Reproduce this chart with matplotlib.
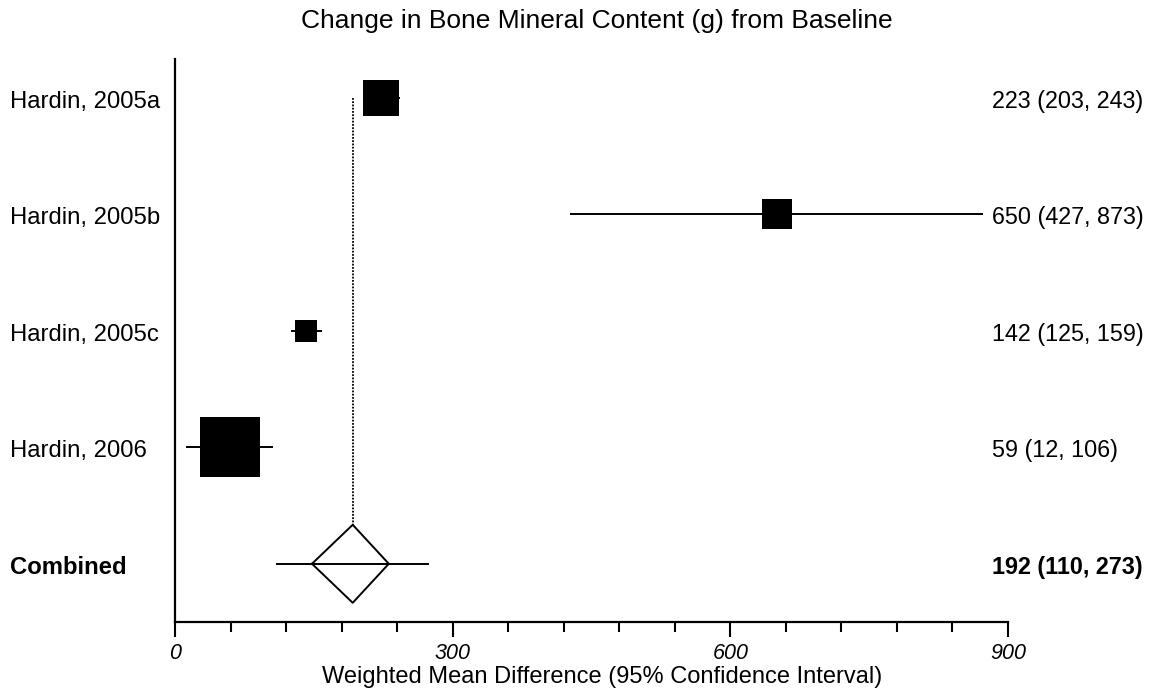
import matplotlib
matplotlib.use("Agg")
import matplotlib.pyplot as plt
from matplotlib.ticker import MultipleLocator

plt.rcParams['font.family'] = ['Liberation Sans', 'DejaVu Sans']

# study estimates (weighted mean difference, 95% CI)
studies = ["Hardin, 2005a", "Hardin, 2005b", "Hardin, 2005c", "Hardin, 2006"]
wmd = [223, 650, 142, 59]
ci_low = [203, 427, 125, 12]
ci_high = [243, 873, 159, 106]

# pooled estimate
pooled_label = "Combined"
pooled = 192
pooled_low = 110
pooled_high = 273
diamond_low = 148
diamond_high = 231

xticks = [0, 300, 600, 900]

# box sizes (points) scaled by study weight
box_sizes = [26.6, 20.9, 15.8, 43.2]

W, H = 1152, 693
fig = plt.figure(figsize=(W / 100, H / 100), dpi=100)
ax = fig.add_axes([175/W, 1 - 622/H, (1008 - 175)/W, (622 - 59)/H])

rows = list(range(len(studies)))
pooled_row = len(studies)

for r, m, lo, hi, s in zip(rows, wmd, ci_low, ci_high, box_sizes):
    ax.plot([lo, hi], [r, r], color='black', lw=1.4, solid_capstyle='butt')
    ax.plot(m, r, marker='s', ms=s, color='black', mew=0)

# pooled whisker + diamond
half_h = 0.335
ax.plot([pooled_low, pooled_high], [pooled_row, pooled_row], color='black', lw=1.4)
ax.plot([diamond_low, pooled, diamond_high, pooled, diamond_low],
        [pooled_row, pooled_row - half_h, pooled_row, pooled_row + half_h, pooled_row],
        color='black', lw=1.4)

# reference line at pooled estimate
ax.plot([pooled, pooled], [0, pooled_row - half_h], color='black', lw=1.3, ls=(0, (1, 0.8)))

ax.set_xlim(0, 900)
ax.set_ylim(4.50, -0.335)
ax.set_xticks(xticks)
ax.set_xticklabels([str(t) for t in xticks], fontsize=15.5, fontstyle='italic')
ax.xaxis.set_minor_locator(MultipleLocator(60))
ax.tick_params(axis='x', which='major', length=11, width=1.5, pad=4)
ax.tick_params(axis='x', which='minor', length=7, width=1.5)
ax.set_yticks([])
for side in ['top', 'right']:
    ax.spines[side].set_visible(False)
for side in ['left', 'bottom']:
    ax.spines[side].set_linewidth(1.6)

# text baselines sit ~10px below the row centre
def row_base(r):
    y0, y1 = ax.get_ylim()
    frac = (r - y0) / (y1 - y0)
    return ax.get_position().y0 + frac * ax.get_position().height - 10/H

for r, name, m, lo, hi in zip(rows, studies, wmd, ci_low, ci_high):
    fig.text(10/W, row_base(r), name, fontsize=17.2, va='baseline', ha='left')
    fig.text(992/W, row_base(r), f"{m} ({lo}, {hi})", fontsize=16.8, va='baseline', ha='left')

fig.text(10/W, row_base(pooled_row), pooled_label, fontsize=17.2, va='baseline', ha='left',
         fontweight='bold')
fig.text(992/W, row_base(pooled_row), f"{pooled} ({pooled_low}, {pooled_high})",
         fontsize=16.8, va='baseline', ha='left', fontweight='bold')

fig.text(597/W, 1 - 28/H, "Change in Bone Mineral Content (g) from Baseline",
         fontsize=19, ha='center', va='baseline')
fig.text(602/W, 1 - 683/H, "Weighted Mean Difference (95% Confidence Interval)",
         fontsize=17, ha='center', va='baseline')

fig.savefig("out.png", dpi=100)
